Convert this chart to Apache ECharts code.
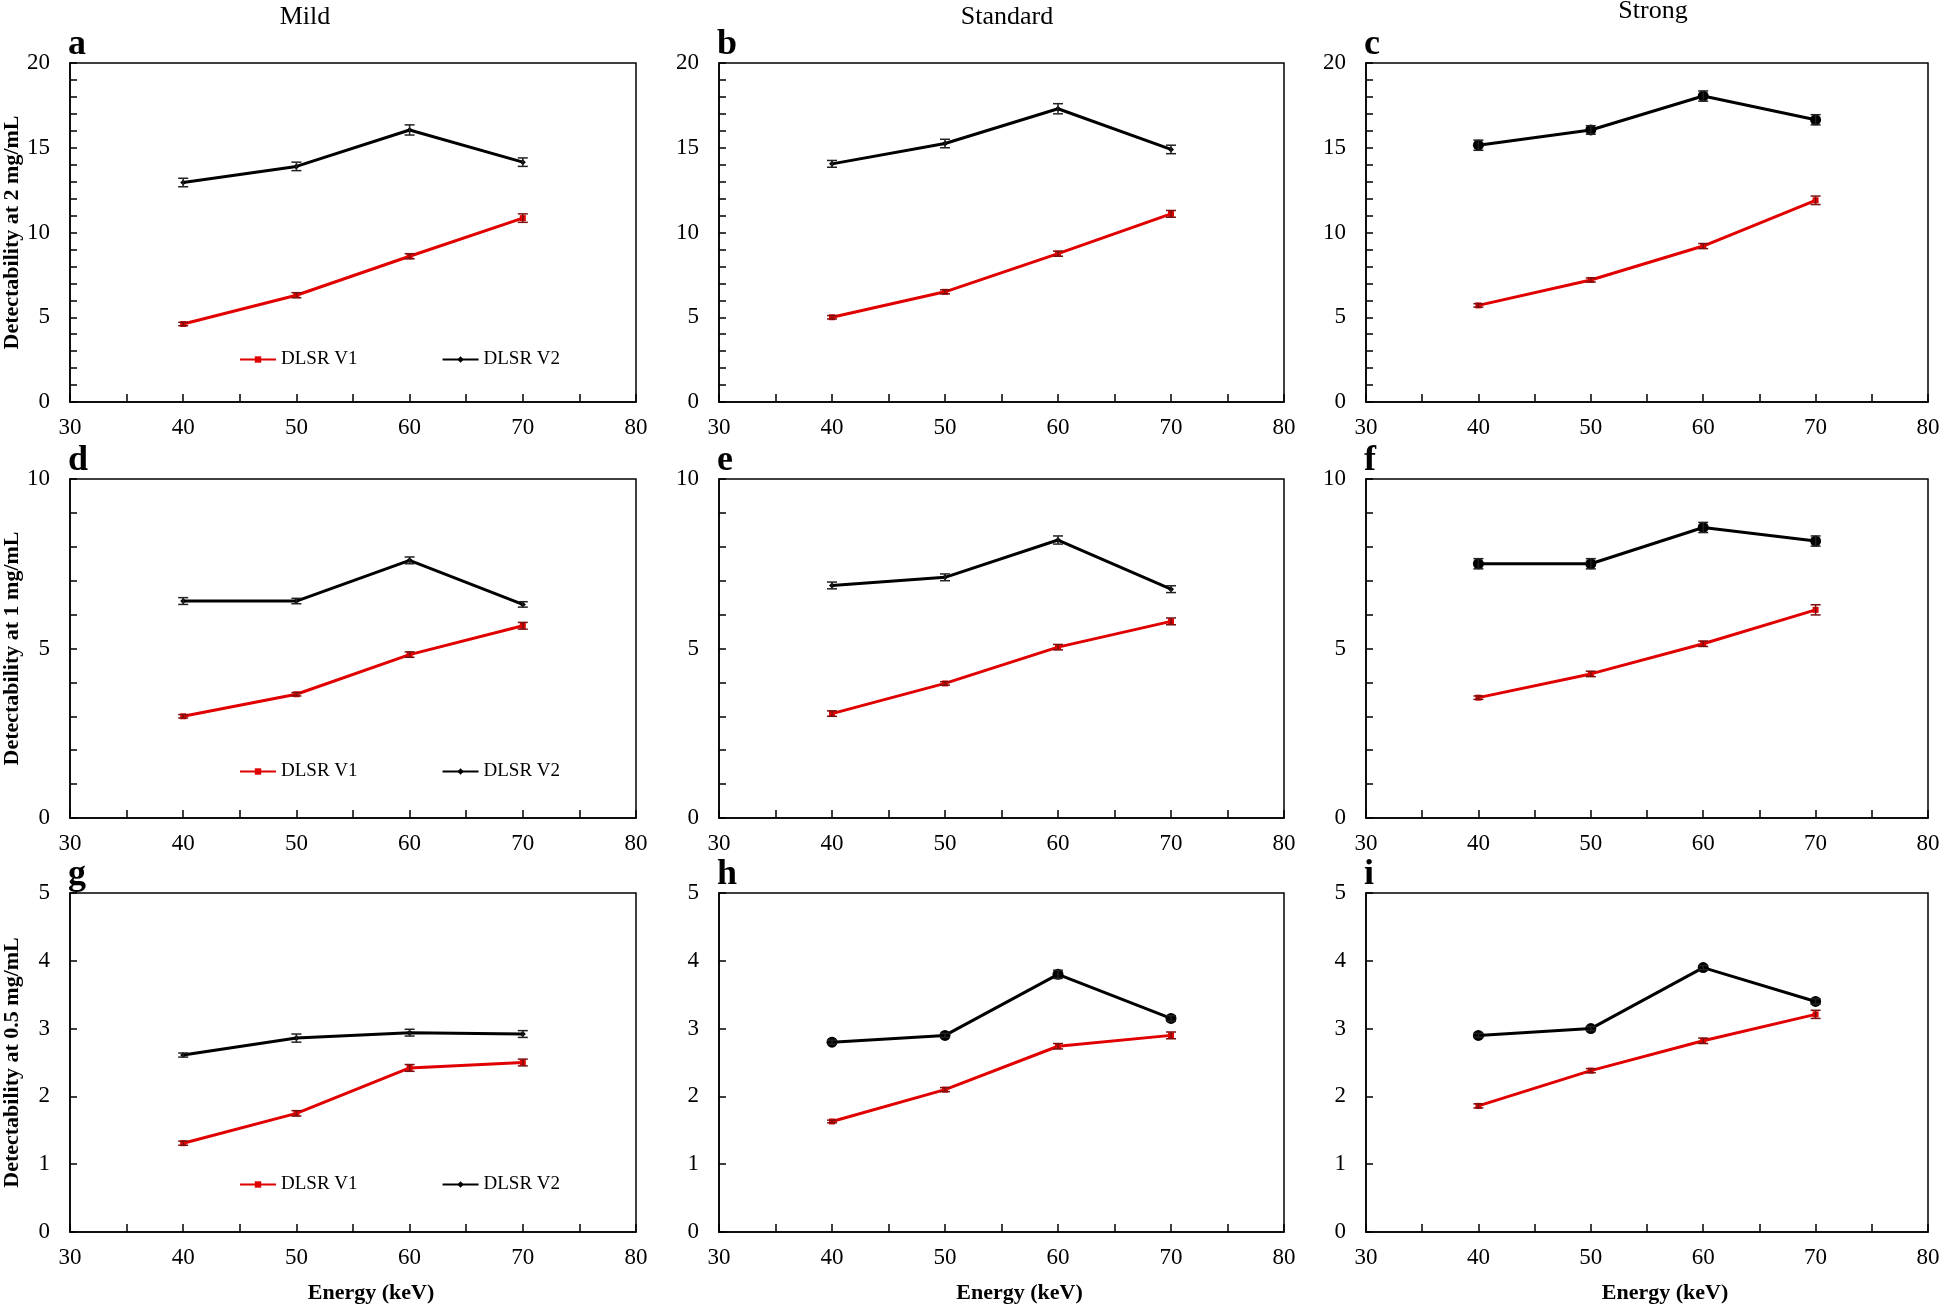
<!DOCTYPE html>
<html>
<head>
<meta charset="utf-8">
<script src="https://cdn.jsdelivr.net/npm/echarts@6/dist/echarts.min.js"></script>
<style>
  html, body { margin: 0; padding: 0; background: #fff; }
  #main { width: 1944px; height: 1308px; }
</style>
</head>
<body>
<div id="main"></div>
<script>
// energies (keV)
var energies = [40, 50, 60, 70];
var xTicks = [30, 40, 50, 60, 70, 80];
var colTitles = ['Mild', 'Standard', 'Strong'];
var rowNames = ['Detectability at 2 mg/mL', 'Detectability at 1 mg/mL', 'Detectability at 0.5 mg/mL'];
var yMaxes = [20, 10, 5];
var letters = ['a', 'b', 'c', 'd', 'e', 'f', 'g', 'h', 'i'];

// DLSR V1 / V2 means per panel
var v1A = [4.6, 6.3, 8.6, 10.85],  v2A = [12.95, 13.9, 16.05, 14.15];
var v1B = [5.0, 6.5, 8.75, 11.1],  v2B = [14.05, 15.25, 17.3, 14.9];
var v1C = [5.7, 7.2, 9.2, 11.9],   v2C = [15.15, 16.05, 18.05, 16.65];
var v1D = [3.0, 3.65, 4.82, 5.67], v2D = [6.4, 6.4, 7.6, 6.3];
var v1E = [3.08, 3.97, 5.04, 5.8], v2E = [6.86, 7.1, 8.2, 6.75];
var v1F = [3.55, 4.25, 5.14, 6.14], v2F = [7.5, 7.5, 8.57, 8.17];
var v1G = [1.31, 1.75, 2.42, 2.5], v2G = [2.61, 2.86, 2.94, 2.92];
var v1H = [1.63, 2.1, 2.74, 2.9],  v2H = [2.8, 2.9, 3.8, 3.15];
var v1I = [1.86, 2.38, 2.82, 3.21], v2I = [2.9, 3.0, 3.9, 3.4];

// error bar half widths
var e1A = [0.1, 0.15, 0.15, 0.25],  e2A = [0.25, 0.25, 0.3, 0.25];
var e1B = [0.1, 0.12, 0.15, 0.2],   e2B = [0.2, 0.25, 0.3, 0.25];
var e1C = [0.1, 0.12, 0.15, 0.25],  e2C = [0.3, 0.25, 0.3, 0.3];
var e1D = [0.05, 0.05, 0.08, 0.1],  e2D = [0.1, 0.08, 0.1, 0.08];
var e1E = [0.08, 0.05, 0.08, 0.1],  e2E = [0.1, 0.1, 0.12, 0.1];
var e1F = [0.05, 0.08, 0.08, 0.15], e2F = [0.15, 0.15, 0.15, 0.15];
var e1G = [0.03, 0.04, 0.05, 0.05], e2G = [0.03, 0.06, 0.05, 0.05];
var e1H = [0.02, 0.03, 0.04, 0.05], e2H = [0.03, 0.03, 0.06, 0.04];
var e1I = [0.03, 0.03, 0.04, 0.06], e2I = [0.03, 0.03, 0.03, 0.04];

var v1All = [v1A, v1B, v1C, v1D, v1E, v1F, v1G, v1H, v1I];
var v2All = [v2A, v2B, v2C, v2D, v2E, v2F, v2G, v2H, v2I];
var e1All = [e1A, e1B, e1C, e1D, e1E, e1F, e1G, e1H, e1I];
var e2All = [e2A, e2B, e2C, e2D, e2E, e2F, e2G, e2H, e2I];

var RED = '#e00000';
var FONT = 'Liberation Serif';
var colLeft = [70, 719, 1366];
var colWidth = [566, 565, 562];
var rowTop = [63, 479, 893];
var rowHeight = 339;
var v2Symbol = ['diamond', 'diamond', 'circle', 'diamond', 'diamond', 'circle', 'diamond', 'circle', 'circle'];
var v2Size = [6, 6, 11, 6, 6, 11, 6, 11, 11];
var legendTops = [345, 757, 1170];

function errItem(params, api) {
    var x = api.value(0);
    var lo = api.coord([x, api.value(1)]);
    var hi = api.coord([x, api.value(2)]);
    var w = 5;
    var st = { stroke: api.visual('color'), lineWidth: 1.5 };
    return {
        type: 'group',
        children: [
            { type: 'line', shape: { x1: lo[0], y1: lo[1], x2: hi[0], y2: hi[1] }, style: st },
            { type: 'line', shape: { x1: lo[0] - w, y1: lo[1], x2: lo[0] + w, y2: lo[1] }, style: st },
            { type: 'line', shape: { x1: hi[0] - w, y1: hi[1], x2: hi[0] + w, y2: hi[1] }, style: st }
        ]
    };
}

var grids = [], xAxes = [], yAxes = [], series = [], legends = [], graphics = [];

for (var p = 0; p < 9; p++) {
    var r = Math.floor(p / 3), c = p % 3;
    var yMax = yMaxes[r];
    grids.push({
        left: colLeft[c], top: rowTop[r], width: colWidth[c], height: rowHeight,
        show: true, borderColor: '#000', borderWidth: 1.5, backgroundColor: 'transparent'
    });
    xAxes.push({
        type: 'value', gridIndex: p, min: 30, max: 80, interval: 5,
        name: r === 2 ? 'Energy (keV)' : '',
        nameLocation: 'middle', nameGap: 50,
        nameTextStyle: { fontFamily: FONT, fontSize: 22, fontWeight: 'bold', color: '#000', padding: [0, 0, 0, 36] },
        axisLine: { lineStyle: { color: '#000', width: 1.5 } },
        axisTick: { inside: true, length: 8, lineStyle: { color: '#000', width: 1.5 } },
        axisLabel: {
            fontFamily: FONT, fontSize: 23, color: '#000', margin: 14,
            formatter: function (v) { return xTicks.indexOf(v) >= 0 ? String(v) : ''; }
        },
        splitLine: { show: false }
    });
    yAxes.push({
        type: 'value', gridIndex: p, min: 0, max: yMax, interval: 1,
        name: c === 0 ? rowNames[r] : '',
        nameLocation: 'middle', nameGap: 47, nameRotate: 90,
        nameTextStyle: { fontFamily: FONT, fontSize: 22, fontWeight: 'bold', color: '#000' },
        axisLine: { lineStyle: { color: '#000', width: 1.5 } },
        axisTick: { inside: true, length: 7, lineStyle: { color: '#000', width: 1.5 } },
        axisLabel: {
            fontFamily: FONT, fontSize: 23, color: '#000', margin: 20,
            formatter: (function (rr) {
                return function (v) { return (rr === 2 || v % 5 === 0) ? String(v) : ''; };
            })(r)
        },
        splitLine: { show: false }
    });

    var d1 = energies.map(function (x, i) { return [x, v1All[p][i]]; });
    var d2 = energies.map(function (x, i) { return [x, v2All[p][i]]; });
    series.push({
        name: 'DLSR V1', type: 'line', xAxisIndex: p, yAxisIndex: p, data: d1,
        symbol: 'rect', symbolSize: 6, color: RED,
        lineStyle: { color: RED, width: 3 }, itemStyle: { color: RED }, z: 3
    });
    series.push({
        name: 'DLSR V2', type: 'line', xAxisIndex: p, yAxisIndex: p, data: d2,
        symbol: v2Symbol[p], symbolSize: v2Size[p], color: '#000',
        lineStyle: { color: '#000', width: 3 }, itemStyle: { color: '#000' }, z: 3
    });
    series.push({
        type: 'custom', xAxisIndex: p, yAxisIndex: p, renderItem: errItem, z: 4,
        itemStyle: { color: '#7a1010' }, encode: { x: 0, y: [1, 2] },
        data: energies.map(function (x, i) { return [x, v1All[p][i] - e1All[p][i], v1All[p][i] + e1All[p][i]]; })
    });
    series.push({
        type: 'custom', xAxisIndex: p, yAxisIndex: p, renderItem: errItem, z: 4,
        itemStyle: { color: '#222' }, encode: { x: 0, y: [1, 2] },
        data: energies.map(function (x, i) { return [x, v2All[p][i] - e2All[p][i], v2All[p][i] + e2All[p][i]]; })
    });

    graphics.push({
        type: 'text', left: colLeft[c] - 2, top: rowTop[r] - 36,
        style: { text: letters[p], font: 'bold 36px "Liberation Serif"', fill: '#000' }
    });

    if (c === 0) {
        legends.push({
            left: 234, top: legendTops[r], itemWidth: 36, itemHeight: 8, itemGap: 84,
            textStyle: { fontFamily: FONT, fontSize: 19, color: '#000' },
            data: ['DLSR V1', 'DLSR V2'], selectedMode: false
        });
    }
}

var titleX = [305, 1007, 1653];
var titleY = [17, 17, 11];
for (var k = 0; k < 3; k++) {
    graphics.push({
        type: 'text', x: titleX[k], y: titleY[k],
        style: { text: colTitles[k], font: '26px "Liberation Serif"', fill: '#000', align: 'center', verticalAlign: 'middle' }
    });
}

var myChart = echarts.init(document.getElementById('main'));
myChart.setOption({
    backgroundColor: '#fff',
    animation: false,
    grid: grids,
    xAxis: xAxes,
    yAxis: yAxes,
    legend: legends,
    graphic: graphics,
    series: series
});
</script>
</body>
</html>
